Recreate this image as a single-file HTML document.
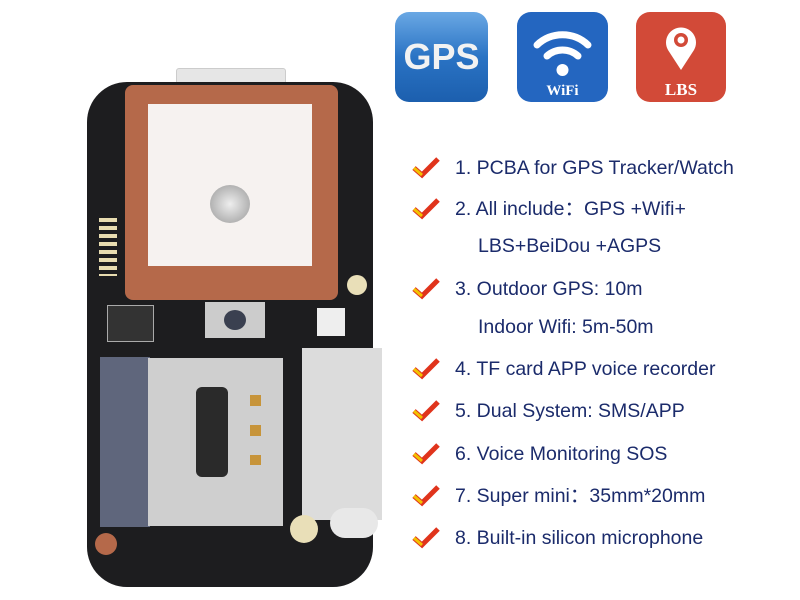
<!DOCTYPE html><html><head><meta charset="utf-8"><style>
body{margin:0;width:800px;height:600px;background:#fff;position:relative;overflow:hidden;font-family:"Liberation Sans",sans-serif}
.a{position:absolute}
.t{position:absolute;left:455px;font-size:19.5px;color:#1b2b6b;white-space:nowrap;line-height:24px}
.ck{position:absolute;left:412px;width:28px;height:24px}
</style></head><body>
<!-- icons -->
<div class="a" style="left:395px;top:12px;width:93px;height:90px;border-radius:14px;background:linear-gradient(#6aa8e4,#2a73c4 50%,#1c5fae)"></div>
<div class="a" style="left:395px;top:36px;width:93px;text-align:center;font-size:36px;font-weight:bold;color:#f2f2f2">GPS</div>
<div class="a" style="left:517px;top:12px;width:91px;height:90px;border-radius:14px;background:#2466c0"></div>
<svg class="a" style="left:517px;top:12px" width="91" height="90"><g fill="none" stroke="#fff" stroke-width="7" stroke-linecap="round"><path d="M20 33 A37 37 0 0 1 71 33"/><path d="M30 44 A23 23 0 0 1 61 44"/></g><circle cx="45.5" cy="58" r="6" fill="#fff"/><text x="45.5" y="83" text-anchor="middle" font-family="Liberation Serif" font-weight="bold" font-size="15" fill="#fff">WiFi</text></svg>
<div class="a" style="left:636px;top:12px;width:90px;height:90px;border-radius:14px;background:#d24a38"></div>
<svg class="a" style="left:636px;top:12px" width="90" height="90"><path d="M45 58 L32 38 A15 15 0 1 1 58 38 Z" fill="#fff"/><circle cx="45" cy="28" r="7" fill="#d24a38"/><circle cx="45" cy="28" r="3.5" fill="#fff"/><text x="45" y="83" text-anchor="middle" font-family="Liberation Serif" font-weight="bold" font-size="17" fill="#fff">LBS</text></svg>
<!-- board -->
<div class="a" style="left:176px;top:68px;width:108px;height:22px;background:#e6e6e6;border:1px solid #ccc;border-radius:3px"></div>
<div class="a" style="left:87px;top:82px;width:286px;height:505px;border-radius:40px;background:#1d1d1f"></div>
<div class="a" style="left:125px;top:85px;width:213px;height:215px;border-radius:8px;background:#b5694a"></div>
<div class="a" style="left:148px;top:104px;width:164px;height:162px;background:#f6f2f0"></div>
<div class="a" style="left:210px;top:185px;width:40px;height:38px;border-radius:50%;background:radial-gradient(#eee,#999)"></div>
<div class="a" style="left:347px;top:275px;width:20px;height:20px;border-radius:50%;background:#e9dfb8"></div>
<div class="a" style="left:99px;top:218px;width:18px;height:58px;background:repeating-linear-gradient(#e8dcb0 0 4px,#1d1d1f 4px 8px)"></div>
<div class="a" style="left:107px;top:305px;width:45px;height:35px;background:#333;border:1px solid #aaa"></div>
<div class="a" style="left:205px;top:302px;width:60px;height:36px;background:#ccc"></div>
<div class="a" style="left:224px;top:310px;width:22px;height:20px;border-radius:50%;background:#3a4050"></div>
<div class="a" style="left:317px;top:308px;width:28px;height:28px;background:#eee"></div>
<div class="a" style="left:100px;top:357px;width:50px;height:170px;background:#5f667c"></div>
<div class="a" style="left:148px;top:358px;width:135px;height:168px;background:#cfcfcf"></div>
<div class="a" style="left:196px;top:387px;width:32px;height:90px;border-radius:6px;background:#2a2a2a"></div>
<div class="a" style="left:250px;top:395px;width:11px;height:70px;background:repeating-linear-gradient(#c7943a 0 11px,#cfcfcf 11px 30px)"></div>
<div class="a" style="left:302px;top:348px;width:80px;height:172px;background:#dcdcdc"></div>
<div class="a" style="left:330px;top:508px;width:48px;height:30px;border-radius:15px;background:#e8e8e8"></div>
<div class="a" style="left:290px;top:515px;width:28px;height:28px;border-radius:50%;background:#e9dfb8"></div>
<div class="a" style="left:95px;top:533px;width:22px;height:22px;border-radius:50%;background:#b5694a"></div>
<!-- text -->
<svg width="0" height="0" style="position:absolute"><defs><g id="c"><path d="M2 12 L10 19 L26 3" fill="none" stroke="#e0341c" stroke-width="5"/><path d="M2 12 L10 19" stroke="#f2c200" stroke-width="3"/></g></defs></svg>
<svg class="ck" style="top:156px" viewBox="0 0 28 24"><use href="#c"/></svg><div class="t" style="top:156px">1. PCBA for GPS Tracker/Watch</div>
<svg class="ck" style="top:197px" viewBox="0 0 28 24"><use href="#c"/></svg><div class="t" style="top:197px">2. All include：GPS +Wifi+</div>
<div class="t" style="top:234px;left:478px">LBS+BeiDou +AGPS</div>
<svg class="ck" style="top:277px" viewBox="0 0 28 24"><use href="#c"/></svg><div class="t" style="top:277px">3. Outdoor GPS: 10m</div>
<div class="t" style="top:315px;left:478px">Indoor Wifi: 5m-50m</div>
<svg class="ck" style="top:357px" viewBox="0 0 28 24"><use href="#c"/></svg><div class="t" style="top:357px">4. TF card APP voice recorder</div>
<svg class="ck" style="top:399px" viewBox="0 0 28 24"><use href="#c"/></svg><div class="t" style="top:399px">5. Dual System: SMS/APP</div>
<svg class="ck" style="top:442px" viewBox="0 0 28 24"><use href="#c"/></svg><div class="t" style="top:442px">6. Voice Monitoring SOS</div>
<svg class="ck" style="top:484px" viewBox="0 0 28 24"><use href="#c"/></svg><div class="t" style="top:484px">7. Super mini：35mm*20mm</div>
<svg class="ck" style="top:526px" viewBox="0 0 28 24"><use href="#c"/></svg><div class="t" style="top:526px">8. Built-in silicon microphone</div>
</body></html>
